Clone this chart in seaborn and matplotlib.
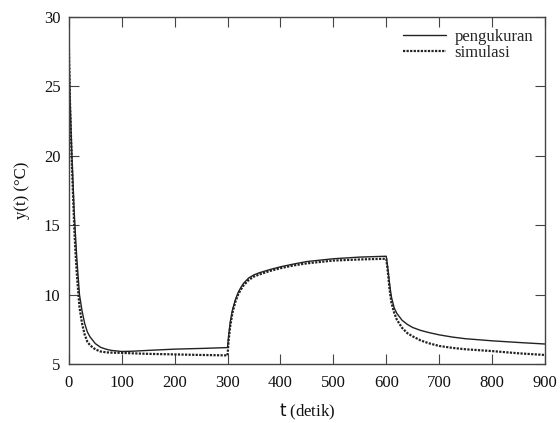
import matplotlib
matplotlib.use("Agg")
import matplotlib.pyplot as plt
import seaborn as sns
import pandas as pd

t = [0, 2, 4, 6, 8, 10, 12, 15, 20, 25, 30, 35, 40, 50, 60, 70, 80, 100, 120, 150,
     200, 250, 299, 300, 302, 305, 308, 310, 315, 320, 325, 330, 340, 350, 360, 380,
     400, 425, 450, 500, 550, 599, 600, 602, 604, 606, 608, 610, 615, 620, 630, 640,
     650, 665, 680, 700, 725, 750, 800, 850, 900]

pengukuran = [27.9, 24.4, 21.9, 19.7, 17.9, 16.0, 14.6, 12.6, 10.0, 8.8, 7.9, 7.3, 6.95,
              6.47, 6.2, 6.07, 5.98, 5.9, 5.92, 5.98, 6.07, 6.12, 6.18, 6.2, 7.0, 8.0,
              8.65, 9.0, 9.65, 10.15, 10.5, 10.8, 11.2, 11.42, 11.57, 11.8, 12.0, 12.2,
              12.38, 12.58, 12.7, 12.76, 12.76, 12.2, 11.6, 10.9, 10.3, 9.8, 9.05, 8.65,
              8.15, 7.85, 7.63, 7.42, 7.27, 7.1, 6.94, 6.82, 6.67, 6.55, 6.44]

simulasi = [27.9, 24.0, 21.4, 19.1, 17.0, 15.0, 13.4, 11.5, 9.1, 7.9, 7.1, 6.6, 6.35,
            6.05, 5.9, 5.84, 5.82, 5.8, 5.77, 5.73, 5.69, 5.65, 5.62, 5.62, 6.7, 7.7,
            8.4, 8.8, 9.5, 10.0, 10.35, 10.65, 11.05, 11.3, 11.45, 11.7, 11.9, 12.1,
            12.25, 12.45, 12.53, 12.58, 12.58, 12.0, 11.3, 10.5, 9.9, 9.4, 8.7, 8.2,
            7.6, 7.22, 6.99, 6.7, 6.5, 6.3, 6.16, 6.06, 5.93, 5.77, 5.65]

x_ticks = [0, 100, 200, 300, 400, 500, 600, 700, 800, 900]
y_ticks = [5, 10, 15, 20, 25, 30]

sns.set_style("ticks")
plt.rcParams['font.family'] = ['Liberation Serif', 'DejaVu Serif']
plt.rcParams['mathtext.fontset'] = 'dejavusans'

df = pd.DataFrame({"t": t, "pengukuran": pengukuran, "simulasi": simulasi})

fig = plt.figure(figsize=(5.6, 4.23), dpi=100)
ax = fig.add_axes([0.123, 0.1395, 0.850, 0.8205])

sns.lineplot(data=df, x="t", y="pengukuran", ax=ax, color="#222222", lw=1.0,
             label="pengukuran")
sns.lineplot(data=df, x="t", y="simulasi", ax=ax, color="#222222", lw=1.6,
             linestyle=(0, (1, 0.6)), label="simulasi")

ax.set_xlim(0, 900)
ax.set_ylim(5, 30)
ax.set_xticks(x_ticks)
ax.set_yticks(y_ticks)
ax.tick_params(direction="in", length=7, width=0.8, color="#444444",
               top=True, right=True, labelsize=12, labelcolor="#111111")
ax.tick_params(axis="x", pad=8)
ax.tick_params(axis="y", pad=6)
for s in ax.spines.values():
    s.set_color("#444444")
    s.set_linewidth(1.0)

ax.set_xlabel(r"$\mathsf{t}$ (detik)", fontsize=12, labelpad=8, color="#111111")
ax.set_ylabel("y(t) (°C)", fontsize=12, labelpad=10, color="#111111")

leg = ax.legend(loc="upper right", frameon=False, fontsize=12, handlelength=2.6,
                labelspacing=0.0, borderaxespad=0.3, handletextpad=0.5)

fig.savefig("out.png", dpi=100)
